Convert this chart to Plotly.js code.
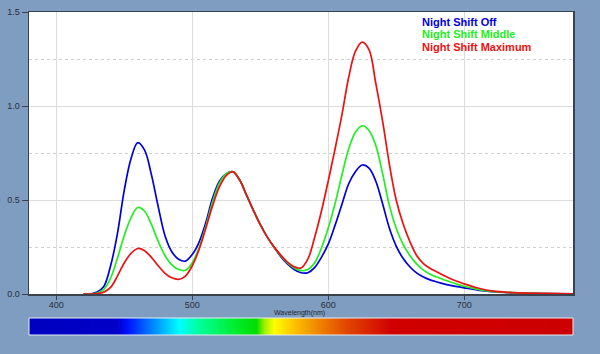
<!DOCTYPE html>
<html>
<head>
<meta charset="utf-8">
<script src="https://cdn.plot.ly/plotly-3.0.1.min.js"></script>
<style>html,body{margin:0;padding:0;background:#7f9dc0;}#chart{width:600px;height:354px;}</style>
</head>
<body>
<div id="chart"></div>
<script>
// Wavelength grid (nm)
const wavelength = [420,425,430,435,440,445,450,455,460,465,470,475,480,485,490,495,500,505,510,515,520,525,530,535,540,545,550,555,560,565,570,575,580,585,590,595,600,605,610,615,620,625,630,635,640,645,650,655,660,665,670,675,680,685,690,695,700,710,720,730,740,760,780];

const nightShiftOff = [0,0,0.01,0.04,0.15,0.32,0.55,0.72,0.805,0.765,0.635,0.465,0.31,0.225,0.185,0.175,0.21,0.275,0.38,0.51,0.6,0.64,0.65,0.605,0.525,0.445,0.37,0.305,0.25,0.2,0.16,0.13,0.113,0.113,0.14,0.195,0.265,0.365,0.475,0.585,0.65,0.686,0.67,0.6,0.48,0.35,0.255,0.19,0.145,0.112,0.09,0.075,0.064,0.054,0.046,0.039,0.033,0.021,0.013,0.008,0.005,0.002,0.001];

const nightShiftMiddle = [0,0,0.005,0.025,0.085,0.19,0.31,0.405,0.46,0.44,0.37,0.28,0.205,0.155,0.13,0.126,0.165,0.245,0.36,0.49,0.59,0.64,0.65,0.605,0.525,0.445,0.37,0.305,0.25,0.205,0.165,0.138,0.124,0.13,0.165,0.245,0.35,0.48,0.63,0.77,0.86,0.895,0.87,0.79,0.64,0.47,0.35,0.265,0.205,0.16,0.127,0.105,0.09,0.076,0.064,0.051,0.041,0.025,0.014,0.009,0.006,0.002,0.001];

const nightShiftMaximum = [0,0,0.002,0.01,0.035,0.095,0.165,0.216,0.242,0.23,0.195,0.15,0.11,0.086,0.078,0.095,0.15,0.235,0.35,0.47,0.57,0.63,0.65,0.605,0.525,0.445,0.37,0.305,0.252,0.208,0.17,0.145,0.138,0.185,0.3,0.44,0.6,0.77,0.95,1.15,1.29,1.34,1.3,1.12,0.92,0.69,0.5,0.375,0.28,0.205,0.162,0.136,0.117,0.098,0.081,0.067,0.054,0.032,0.017,0.01,0.006,0.003,0.001];

const seriesNames = ["Night Shift Off", "Night Shift Middle", "Night Shift Maximum"];
const seriesColors = ["#0000dd", "#22ee22", "#ee1111"];

// Spectrum strip stops
const spectrumWl = [380,445,452,470,490,505,530,547,553,560,572,590,615,647,780];
const spectrumColors = ["#0000c0","#0000c8","#0010ff","#0080ff","#00ffff","#00ff99","#00ee33","#00dd00","#a0f000","#ffff00","#ffcc00","#f08c00","#e04000","#d00000","#cc0000"];

const xTickVals = [400,500,600,700];
const xTickText = ["400","500","600","700"];
const yTickVals = [0,0.5,1.0,1.5];
const yTickText = ["0.0","0.5","1.0","1.5"];

const wlMin = 380, wlMax = 780;
const colorscale = spectrumWl.map((w,i)=>[(w-wlMin)/(wlMax-wlMin), spectrumColors[i]]);

const data = [nightShiftOff, nightShiftMiddle, nightShiftMaximum].map((ys,i)=>({
  type:"scatter", mode:"lines", x:wavelength, y:ys, name:seriesNames[i],
  line:{color:seriesColors[i], width:1.7, shape:"spline", smoothing:1},
  hoverinfo:"skip", xaxis:"x", yaxis:"y"
}));

data.push({
  type:"heatmap", x:spectrumWl, y:[0,1], z:[spectrumWl, spectrumWl],
  colorscale:colorscale, zmin:wlMin, zmax:wlMax, zsmooth:"best",
  showscale:false, hoverinfo:"skip", xaxis:"x2", yaxis:"y2"
});

const font = {family:"Liberation Sans, Arial, sans-serif", size:9, color:"#2a2f3a"};

const annotations = seriesNames.map((n,i)=>({
  text:"<b>"+n+"</b>", xref:"paper", yref:"paper", x:0.719, y:[0.969,0.931,0.8926][i],
  xanchor:"left", yanchor:"middle", showarrow:false,
  font:{family:"Liberation Sans, Arial, sans-serif", size:11, color:seriesColors[i]}
}));
annotations.push({
  text:"Wavelength(nm)", xref:"paper", yref:"paper", x:(299-29)/544, y:1-(313-12)/323,
  xanchor:"center", yanchor:"middle", showarrow:false,
  font:{family:"Liberation Sans, Arial, sans-serif", size:7, color:"#1e2430"}
});

const layout = {
  width:600, height:354,
  margin:{l:29, r:27, t:12, b:19, pad:0},
  paper_bgcolor:"#7f9dc0", plot_bgcolor:"#ffffff",
  showlegend:false, font:font,
  xaxis:{
    domain:[0,1], range:[wlMin,wlMax], anchor:"y",
    tickvals:xTickVals, ticktext:xTickText, ticks:"outside", ticklen:4, tickcolor:"#3a4250",
    ticklabelstandoff:-2,
    showgrid:true, gridcolor:"#dcdcdc", gridwidth:1,
    showline:true, linecolor:"#3a4250", linewidth:1.5, mirror:true, zeroline:false,
    tickfont:font
  },
  yaxis:{
    domain:[1-(294-12)/323, 1], range:[0,1.5], anchor:"x",
    tickvals:yTickVals, ticktext:yTickText, ticks:"outside", ticklen:6, tickcolor:"#3a4250",
    showgrid:true, gridcolor:"#dcdcdc", gridwidth:1,
    minor:{dtick:0.25, showgrid:true, gridcolor:"#cfcfcf", griddash:"dot", ticks:""},
    showline:true, linecolor:"#3a4250", linewidth:1.5, mirror:true, zeroline:false,
    tickfont:font
  },
  xaxis2:{domain:[0,1], range:[wlMin,wlMax], anchor:"y2", visible:false},
  yaxis2:{domain:[0,(335-318)/323], range:[0,1], anchor:"x2", visible:false},
  shapes:[{
    type:"rect", xref:"paper", yref:"paper", x0:0, x1:1, y0:0, y1:(335-318)/323,
    line:{color:"#e6ecf4", width:1}, fillcolor:"rgba(0,0,0,0)"
  }],
  annotations:annotations
};

Plotly.newPlot("chart", data, layout, {staticPlot:true, displayModeBar:false});
</script>
</body>
</html>
